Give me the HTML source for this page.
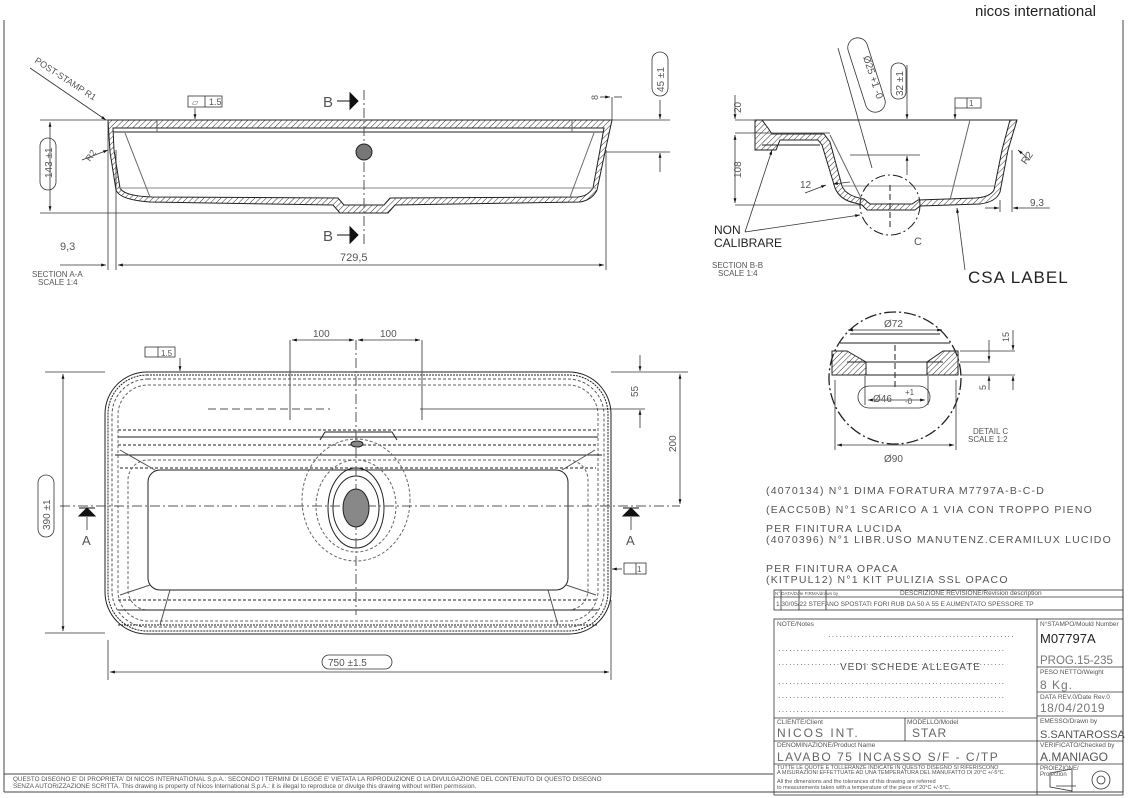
<!DOCTYPE html>
<html><head><meta charset="utf-8"><style>
html,body{margin:0;padding:0;background:#fff}
svg{display:block}
text{font-family:"Liberation Sans",sans-serif;fill:#555}
.k{fill:#111}
</style></head><body>
<svg width="1129" height="798" viewBox="0 0 1129 798" xmlns="http://www.w3.org/2000/svg">
<defs>
<pattern id="h" width="4" height="4" patternUnits="userSpaceOnUse" patternTransform="rotate(45)"><line x1="0" y1="0" x2="0" y2="4" stroke="#333" stroke-width="1"/></pattern>
<marker id="a" viewBox="0 0 10 10" refX="10" refY="5" markerWidth="8" markerHeight="6" orient="auto-start-reverse"><path d="M0,2 L10,5 L0,8z" fill="#111"/></marker>
</defs>
<g fill="none" stroke="#444" stroke-width="1">
<line x1="4" y1="20" x2="4" y2="792"/><line x1="1123" y1="20" x2="1123" y2="792"/>
<line x1="4" y1="792" x2="1123" y2="792"/>
<line x1="4" y1="774" x2="773" y2="774"/>
</g>
<text x="975" y="16" font-size="15" style="fill:#222">nicos international</text>

<!-- SECTION A-A -->
<g fill="none" stroke="#222" stroke-width="1">
<path d="M108,120 L612,120 L605,152 L597,190 Q592,200 580,202 L395,205 L388,213 L340,213 L333,205 L150,202 Q120,200 116,190 L110,152 Z" fill="url(#h)"/>
<path d="M113,128 L604,128 L600,150 L593,188 Q588,196 578,197 L390,198 L384,205 L344,205 L338,198 L152,197 Q124,196 120,188 L114,150 Z" fill="#fff"/>
<line x1="113" y1="132" x2="604" y2="132"/>
<line x1="118" y1="188" x2="596" y2="188" stroke="#888"/>
<line x1="125" y1="133" x2="150" y2="197" stroke="#666"/>
<line x1="594" y1="133" x2="570" y2="197" stroke="#666"/>
<line x1="157" y1="120" x2="157" y2="132" stroke="#666"/><line x1="572" y1="120" x2="572" y2="132" stroke="#666"/>
<line x1="364" y1="90" x2="364" y2="245" stroke-dasharray="10,3,2,3" stroke="#555"/>
</g>
<circle cx="364" cy="152" r="8" fill="#777" stroke="#222"/>
<g fill="none" stroke="#333" stroke-width="0.8">
<line x1="40" y1="120" x2="108" y2="120"/><line x1="40" y1="213" x2="340" y2="213"/>
<line x1="50" y1="122" x2="50" y2="211" marker-start="url(#a)" marker-end="url(#a)"/>
<line x1="612" y1="120" x2="670" y2="120"/><line x1="605" y1="152" x2="670" y2="152"/>
<line x1="660" y1="100" x2="660" y2="119" marker-end="url(#a)"/><line x1="660" y1="172" x2="660" y2="153" marker-end="url(#a)"/>
<line x1="108" y1="120" x2="108" y2="270"/><line x1="116" y1="150" x2="116" y2="270"/><line x1="606" y1="150" x2="606" y2="270"/>
<line x1="118" y1="265" x2="604" y2="265" marker-start="url(#a)" marker-end="url(#a)"/>
<line x1="60" y1="265" x2="106" y2="265" marker-end="url(#a)"/>
<line x1="600" y1="97" x2="610" y2="97" marker-end="url(#a)"/><line x1="622" y1="97" x2="614" y2="97"/>
<line x1="612" y1="97" x2="612" y2="120"/>
<line x1="30" y1="68" x2="106" y2="120" marker-end="url(#a)"/>
<line x1="82" y1="160" x2="108" y2="150" marker-end="url(#a)"/>
<line x1="195" y1="108" x2="195" y2="119" marker-end="url(#a)"/>
<rect x="188" y="96" width="34" height="11"/><line x1="205" y1="96" x2="205" y2="107"/>
<rect x="40" y="138" width="16" height="52" rx="8"/><rect x="652" y="52" width="16" height="44" rx="8"/>
</g>
<text x="60" y="250" font-size="11">9,3</text><text x="340" y="261" font-size="11">729,5</text>
<text x="32" y="277" font-size="8">SECTION A-A</text><text x="38" y="285" font-size="8">SCALE 1:4</text>
<text x="209" y="105" font-size="9">1.5</text><text x="192" y="105" font-size="8">▱</text>
<text transform="translate(34,62) rotate(33)" font-size="9">POST-STAMP R1</text>
<text transform="translate(90,162) rotate(-55)" font-size="9">R2</text>
<text transform="translate(52,178) rotate(-90)" font-size="10">143 ±1</text>
<text transform="translate(664,92) rotate(-90)" font-size="10">45 ±1</text>
<text transform="translate(598,100) rotate(-90)" font-size="9">8</text>
<text x="323" y="107" font-size="15">B</text><text x="323" y="241" font-size="15">B</text>
<g stroke="#111" fill="#111"><line x1="337" y1="101" x2="350" y2="101"/><path d="M350,93 L358,101 L350,109z"/><line x1="337" y1="235" x2="350" y2="235"/><path d="M350,227 L358,235 L350,243z"/></g>

<!-- PLAN VIEW -->
<g fill="none" stroke="#222" stroke-width="1">
<rect x="105" y="372" width="506" height="262" rx="42"/>
<rect x="108" y="375" width="500" height="256" rx="39" stroke-dasharray="2,1"/>
<rect x="112" y="379" width="492" height="248" rx="36" stroke-dasharray="3,2" stroke="#555"/>
<rect x="118" y="385" width="480" height="236" rx="30" stroke-dasharray="3,2" stroke="#666"/>
<line x1="118" y1="430" x2="598" y2="430" stroke-dasharray="3,2"/>
<line x1="118" y1="437" x2="598" y2="437"/>
<line x1="118" y1="445" x2="598" y2="445" stroke-dasharray="3,2"/>
<line x1="115" y1="455" x2="602" y2="455"/>
<line x1="120" y1="468" x2="596" y2="468" stroke-dasharray="3,2"/>
<rect x="148" y="470" width="420" height="120" rx="12"/>
<rect x="128" y="460" width="460" height="150" rx="20" stroke-dasharray="3,2" stroke="#666"/>
<line x1="118" y1="600" x2="598" y2="600" stroke-dasharray="3,2"/>
<line x1="118" y1="610" x2="598" y2="610"/>
<line x1="118" y1="625" x2="598" y2="625" stroke-dasharray="2,1"/>
<path d="M120,450 L155,470 M595,450 L562,470 M120,595 L150,585 M596,595 L566,585 M170,590 L160,625 M548,590 L558,625" stroke="#555"/>
<path d="M320,440 L325,432 L392,432 L397,440" />
<ellipse cx="356" cy="500" rx="54" ry="61" stroke-dasharray="3,2" stroke="#666"/>
<ellipse cx="356" cy="506" rx="40" ry="46" stroke-dasharray="3,2" stroke="#666"/>
<ellipse cx="356" cy="508" rx="28" ry="40"/>
<ellipse cx="356" cy="508" rx="23" ry="32"/>
<line x1="356" y1="340" x2="356" y2="615" stroke-dasharray="10,3,2,3" stroke="#555"/>
<line x1="60" y1="506" x2="680" y2="506" stroke-dasharray="10,3,2,3" stroke="#555"/>
<line x1="208" y1="409" x2="330" y2="409" stroke-dasharray="8,4" stroke="#555"/>
<line x1="290" y1="340" x2="290" y2="420" stroke="#555"/><line x1="422" y1="340" x2="422" y2="420" stroke="#555"/>
</g>
<ellipse cx="356" cy="508" rx="13" ry="19" fill="#888" stroke="#222"/>
<ellipse cx="357" cy="444" rx="6" ry="3" fill="#888" stroke="#222"/>
<g fill="none" stroke="#333" stroke-width="0.8">
<line x1="292" y1="340" x2="354" y2="340" marker-start="url(#a)" marker-end="url(#a)"/>
<line x1="358" y1="340" x2="420" y2="340" marker-start="url(#a)" marker-end="url(#a)"/>
<line x1="45" y1="372" x2="105" y2="372"/><line x1="45" y1="633" x2="105" y2="633"/>
<line x1="63" y1="374" x2="63" y2="631" marker-start="url(#a)" marker-end="url(#a)"/>
<line x1="611" y1="372" x2="688" y2="372"/>
<line x1="680" y1="374" x2="680" y2="504" marker-start="url(#a)" marker-end="url(#a)"/>
<line x1="640" y1="355" x2="640" y2="371" marker-end="url(#a)"/><line x1="640" y1="428" x2="640" y2="410" marker-end="url(#a)"/>
<line x1="420" y1="409" x2="645" y2="409"/>
<line x1="108" y1="640" x2="108" y2="680"/><line x1="611" y1="600" x2="611" y2="680"/>
<line x1="110" y1="672" x2="609" y2="672" marker-start="url(#a)" marker-end="url(#a)"/>
<rect x="322" y="655" width="70" height="14" rx="7"/>
<rect x="38" y="475" width="16" height="62" rx="8"/>
<rect x="145" y="347" width="30" height="10"/><line x1="158" y1="347" x2="158" y2="357"/>
<line x1="180" y1="358" x2="180" y2="371" marker-end="url(#a)"/>
<rect x="624" y="563" width="22" height="11"/><line x1="636" y1="563" x2="636" y2="574"/>
<line x1="622" y1="569" x2="612" y2="569" marker-end="url(#a)"/>
<line x1="87" y1="517" x2="87" y2="530"/><line x1="631" y1="517" x2="631" y2="530"/>
</g>
<path d="M79,516 L87,508 L95,516z M79,508 L95,508" fill="#111" stroke="#111"/>
<path d="M623,516 L631,508 L639,516z M623,508 L639,508" fill="#111" stroke="#111"/>
<text x="82" y="545" font-size="13">A</text><text x="626" y="545" font-size="13">A</text>
<text x="313" y="337" font-size="10">100</text><text x="380" y="337" font-size="10">100</text>
<text x="328" y="666" font-size="10">750 ±1.5</text>
<text x="161" y="356" font-size="8">1.5</text><text x="637" y="572" font-size="8">1</text>
<text transform="translate(50,530) rotate(-90)" font-size="10">390 ±1</text>
<text transform="translate(676,452) rotate(-90)" font-size="10">200</text>
<text transform="translate(638,397) rotate(-90)" font-size="10">55</text>

<!-- SECTION B-B -->
<g fill="none" stroke="#222" stroke-width="1">
<path d="M755,120 L1017,120 L1008,150 L1000,192 Q996,202 980,204 L920,206 L915,210 L867,210 L862,205 L855,203 Q840,200 835,188 L822,145 L818,140 L780,140 L776,150 L755,150 Z" fill="url(#h)"/>
<path d="M762,120 L1010,120 L1002,150 L994,190 Q990,197 976,198 L918,200 L912,204 L870,204 L864,199 Q846,196 842,186 L830,142 L824,134 L772,134 L768,128 Z" fill="#fff"/>
<line x1="762" y1="145" x2="820" y2="145"/>
<line x1="842" y1="186" x2="994" y2="186" stroke="#888"/>
<line x1="970" y1="120" x2="950" y2="200" stroke="#666"/>
<line x1="830" y1="135" x2="862" y2="200" stroke="#666"/>
<line x1="890" y1="185" x2="890" y2="230" stroke-dasharray="6,3"/>
<circle cx="890" cy="205" r="30" stroke-dasharray="10,3,2,3"/>
</g>
<g fill="none" stroke="#333" stroke-width="0.8">
<line x1="735" y1="120" x2="755" y2="120"/><line x1="735" y1="133" x2="830" y2="133"/><line x1="735" y1="205" x2="860" y2="205"/>
<line x1="735" y1="95" x2="735" y2="119" marker-end="url(#a)"/>
<line x1="735" y1="135" x2="735" y2="203" marker-start="url(#a)" marker-end="url(#a)"/>
<line x1="907" y1="65" x2="907" y2="119" marker-end="url(#a)"/><line x1="907" y1="175" x2="907" y2="156" marker-end="url(#a)"/>
<line x1="850" y1="155" x2="920" y2="155"/>
<line x1="838" y1="48" x2="872" y2="168"/>
<path d="M848,50 A10,10 0 0 1 867,44 L885,100 A10,10 0 0 1 866,106 Z"/>
<rect x="891" y="63" width="15" height="36" rx="7"/>
<rect x="955" y="98" width="26" height="10"/><line x1="967" y1="98" x2="967" y2="108"/>
<line x1="955" y1="108" x2="955" y2="119" marker-end="url(#a)"/>
<line x1="1030" y1="160" x2="1018" y2="150" marker-end="url(#a)"/>
<line x1="1000" y1="200" x2="1000" y2="212"/><line x1="1012" y1="150" x2="1012" y2="212"/>
<line x1="985" y1="208" x2="999" y2="208" marker-end="url(#a)"/><line x1="1050" y1="208" x2="1013" y2="208" marker-end="url(#a)"/>
<line x1="745" y1="232" x2="772" y2="150" marker-end="url(#a)"/>
<line x1="745" y1="232" x2="860" y2="215" marker-end="url(#a)"/>
<line x1="805" y1="193" x2="826" y2="185" marker-end="url(#a)"/><line x1="850" y1="182" x2="833" y2="184" marker-end="url(#a)"/>
<line x1="965" y1="270" x2="957" y2="208" marker-end="url(#a)"/>
</g>
<text transform="translate(741,113) rotate(-90)" font-size="10">20</text>
<text transform="translate(741,178) rotate(-90)" font-size="10">108</text>
<text transform="translate(863,57) rotate(72)" font-size="10">Ø25 +1 -0</text>
<text transform="translate(903,96) rotate(-90)" font-size="10">32 ±1</text>
<text x="800" y="188" font-size="10">12</text>
<text x="1030" y="206" font-size="10">9,3</text>
<text transform="translate(1026,165) rotate(-55)" font-size="10">R2</text>
<text x="969" y="106" font-size="8">1</text>
<text x="914" y="245" font-size="11">C</text>
<text x="714" y="234" font-size="12" style="fill:#222">NON</text>
<text x="714" y="247" font-size="12" style="fill:#222">CALIBRARE</text>
<text x="712" y="268" font-size="8">SECTION B-B</text><text x="718" y="276" font-size="8">SCALE 1:4</text>
<text x="968" y="283" font-size="17" style="fill:#222;letter-spacing:1px">CSA LABEL</text>

<!-- DETAIL C -->
<g fill="none" stroke="#222" stroke-width="1">
<circle cx="895" cy="378" r="66" stroke-dasharray="12,3,2,3" stroke-width="1.3"/>
<path d="M832,351 L847,351 L866,362 L866,375 L832,375 Z" fill="url(#h)"/>
<path d="M958,351 L943,351 L927,362 L927,375 L958,375 Z" fill="url(#h)"/>
<line x1="847" y1="362" x2="943" y2="362"/><line x1="866" y1="375" x2="927" y2="375"/>
<line x1="840" y1="343" x2="950" y2="343"/>
<line x1="850" y1="334" x2="940" y2="334"/>
<line x1="895" y1="345" x2="895" y2="390" stroke-dasharray="6,3"/>
</g>
<g fill="none" stroke="#333" stroke-width="0.8">
<line x1="848" y1="330" x2="942" y2="330" marker-start="url(#a)" marker-end="url(#a)"/>
<line x1="865" y1="376" x2="865" y2="405"/><line x1="928" y1="376" x2="928" y2="405"/>
<line x1="868" y1="400" x2="925" y2="400" marker-start="url(#a)" marker-end="url(#a)"/>
<rect x="858" y="386" width="72" height="22" rx="11"/>
<line x1="835" y1="380" x2="835" y2="450"/><line x1="956" y1="380" x2="956" y2="450"/>
<line x1="837" y1="445" x2="954" y2="445" marker-start="url(#a)" marker-end="url(#a)"/>
<line x1="960" y1="351" x2="1015" y2="351"/><line x1="960" y1="362" x2="990" y2="362"/><line x1="960" y1="375" x2="1015" y2="375"/>
<line x1="1013" y1="330" x2="1013" y2="350" marker-end="url(#a)"/><line x1="1013" y1="390" x2="1013" y2="376" marker-end="url(#a)"/>
<line x1="989" y1="340" x2="989" y2="361" marker-end="url(#a)"/><line x1="989" y1="390" x2="989" y2="376" marker-end="url(#a)"/>
</g>
<text x="884" y="327" font-size="10">Ø72</text>
<text x="873" y="402" font-size="10">Ø46</text><text x="905" y="395" font-size="8">+1</text><text x="905" y="404" font-size="8">-0</text>
<text x="884" y="462" font-size="10">Ø90</text>
<text transform="translate(1009,342) rotate(-90)" font-size="9">15</text>
<text transform="translate(986,390) rotate(-90)" font-size="9">5</text>
<text x="973" y="434" font-size="8">DETAIL C</text><text x="968" y="442" font-size="8">SCALE 1:2</text>

<g font-size="10.5" style="letter-spacing:1.2px">
<text x="766" y="494">(4070134) N°1 DIMA FORATURA M7797A-B-C-D</text>
<text x="766" y="513">(EACC50B) N°1 SCARICO A 1 VIA CON TROPPO PIENO</text>
<text x="766" y="532">PER FINITURA LUCIDA</text>
<text x="766" y="543">(4070396) N°1 LIBR.USO MANUTENZ.CERAMILUX LUCIDO</text>
<text x="766" y="572">PER FINITURA OPACA</text>
<text x="766" y="583">(KITPUL12) N°1 KIT PULIZIA SSL OPACO</text>
</g>

<g fill="none" stroke="#333" stroke-width="0.8">
<rect x="774" y="590" width="349" height="20"/>
<line x1="774" y1="597" x2="1123" y2="597"/>
<line x1="781" y1="590" x2="781" y2="610"/><line x1="799" y1="590" x2="799" y2="610"/><line x1="826" y1="590" x2="826" y2="610"/>
<rect x="774" y="619" width="349" height="176"/>
<line x1="1037" y1="619" x2="1037" y2="795"/>
<line x1="1037" y1="667" x2="1123" y2="667"/>
<line x1="1037" y1="692" x2="1123" y2="692"/>
<line x1="1037" y1="716" x2="1123" y2="716"/>
<line x1="774" y1="718" x2="1037" y2="718"/>
<line x1="774" y1="741" x2="1123" y2="741"/>
<line x1="774" y1="764" x2="1123" y2="764"/>
<line x1="905" y1="718" x2="905" y2="741"/>
<line x1="1076" y1="786" x2="1056" y2="786"/><path d="M1050,773 L1072,769 L1072,791 L1050,787Z"/>
<circle cx="1101" cy="780" r="9"/><circle cx="1101" cy="780" r="4"/>
</g>
<g font-size="5.5">
<text x="775" y="595" font-size="4.5">N° DATA/Date FIRMA/drawn by</text>
<text x="900" y="595" font-size="6.5">DESCRIZIONE REVISIONE/Revision description</text>
<text x="776" y="606" font-size="6.5">1  30/05/22  STEFANO  SPOSTATI FORI RUB DA 50 A 55 E AUMENTATO SPESSORE TP</text>
<text x="777" y="626" font-size="6.5">NOTE/Notes</text>
<text x="1040" y="626" font-size="6.5">N°STAMPO/Mould Number</text>
<text x="1040" y="674" font-size="6.5">PESO NETTO/Weight</text>
<text x="1040" y="699" font-size="6.5">DATA REV.0/Date Rev.0</text>
<text x="1040" y="723" font-size="6.5">EMESSO/Drawn by</text>
<text x="1040" y="747" font-size="6.5">VERIFICATO/Checked by</text>
<text x="1040" y="770" font-size="6">PROIEZIONE/</text><text x="1040" y="776" font-size="6">Projection</text>
<text x="777" y="724" font-size="6.5">CLIENTE/Client</text>
<text x="907" y="724" font-size="6.5">MODELLO/Model</text>
<text x="777" y="747" font-size="6.5">DENOMINAZIONE/Product Name</text>
<text x="777" y="769">TUTTE LE QUOTE E TOLLERANZE INDICATE IN QUESTO DISEGNO SI RIFERISCONO</text>
<text x="777" y="774">A MISURAZIONI EFFETTUATE AD UNA TEMPERATURA DEL MANUFATTO DI 20°C +/-5°C.</text>
<text x="777" y="783">All the dimensions and the tolerances of this drawing are referred</text>
<text x="777" y="789">to measurements taken with a temperature of the piece of 20°C +/-5°C.</text>
</g>
<g font-size="8" style="fill:#666;letter-spacing:1px">
<text x="828" y="639">···················································</text>
<text x="778" y="653">······························································</text>
<text x="778" y="667">······························································</text>
<text x="778" y="686">······························································</text>
<text x="778" y="700">······························································</text>
<text x="778" y="714">······························································</text>
</g>
<text x="840" y="670" font-size="10" style="letter-spacing:1px">VEDI SCHEDE ALLEGATE</text>
<text x="1040" y="643" font-size="13" style="fill:#222">M07797A</text>
<text x="1040" y="664" font-size="11.5" style="fill:#777">PROG.15-235</text>
<text x="1040" y="689" font-size="12" style="fill:#777;letter-spacing:1px">8 Kg.</text>
<text x="1040" y="712" font-size="12" style="fill:#777;letter-spacing:0.5px">18/04/2019</text>
<text x="1040" y="738" font-size="11" style="fill:#555">S.SANTAROSSA</text>
<text x="1040" y="761" font-size="12" style="fill:#555">A.MANIAGO</text>
<text x="777" y="737" font-size="12" style="fill:#666;letter-spacing:2px">NICOS INT.</text>
<text x="912" y="737" font-size="12" style="fill:#666;letter-spacing:1px">STAR</text>
<text x="777" y="761" font-size="12" style="fill:#666;letter-spacing:1.5px">LAVABO 75 INCASSO S/F - C/TP</text>

<g font-size="6.3" style="fill:#444">
<text x="13" y="781">QUESTO DISEGNO E' DI PROPRIETA' DI NICOS INTERNATIONAL S.p.A.: SECONDO I TERMINI DI LEGGE E' VIETATA LA RIPRODUZIONE O LA DIVULGAZIONE DEL CONTENUTO DI QUESTO DISEGNO</text>
<text x="13" y="788">SENZA AUTORIZZAZIONE SCRITTA. This drawing is property of Nicos International S.p.A.: it is illegal to reproduce or divulge this drawing without written permission.</text>
</g>
</svg>
</body></html>
